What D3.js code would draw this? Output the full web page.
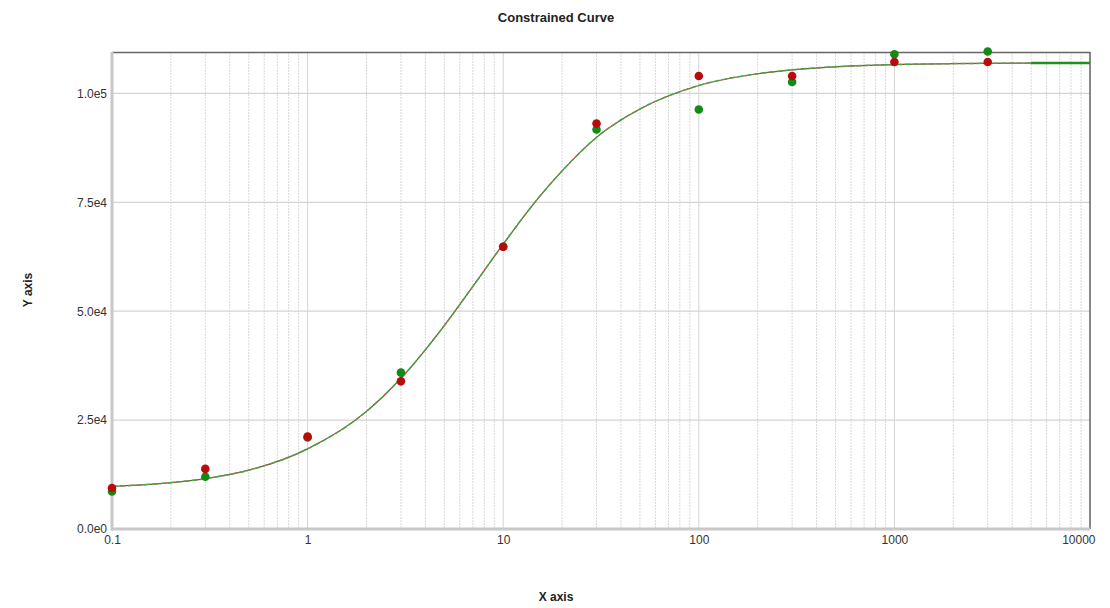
<!DOCTYPE html>
<html>
<head>
<meta charset="utf-8">
<script src="https://cdn.jsdelivr.net/npm/d3@7"></script>
<style>
  body { margin: 0; background: #fff; }
  svg { display: block; font-family: "Liberation Sans", Arial, sans-serif; }
</style>
</head>
<body>
<svg id="chart" width="1110" height="608"></svg>
<script>
// === data ===
const doses = [0.1, 0.3, 1, 3, 10, 30, 100, 300, 1000, 3000];
const redValues = [9400, 13800, 21200, 33900, 64800, 93100, 104000, 104000, 107200, 107200];
const greenValues = [8600, 12000, 21000, 35900, 64800, 91700, 96300, 102600, 109000, 109600];

// fitted curve
const curveX = [0.1, 0.2, 0.3, 0.5, 1, 2, 3, 5, 7, 10, 15, 20, 30, 50, 100, 200, 300, 1000, 3000, 5000, 10000];
const curveY = [9760, 10640, 11560, 13500, 18400, 27000, 34600, 46700, 55700, 65400, 75800, 82200, 89900, 96400, 101800, 104500, 105400, 106600, 106900, 106950, 107000];

const xTicks = [0.1, 1, 10, 100, 1000, 10000];
const xTickLabels = ["0.1", "1", "10", "100", "1000", "10000"];
const yTicks = [0, 25000, 50000, 75000, 100000];
const yTickLabels = ["0.0e0", "2.5e4", "5.0e4", "7.5e4", "1.0e5"];

const svg = d3.select("#chart");
const width = +svg.attr("width");
const height = +svg.attr("height");
const margin = { top: 52, right: 20, bottom: 79, left: 112 };
const innerWidth = width - margin.left - margin.right;
const innerHeight = height - margin.top - margin.bottom;

const x = d3.scaleLog().domain([0.1, 10000]).range([0, innerWidth]);
const y = d3.scaleLinear().domain([0, 109500]).range([innerHeight, 0]);

const g = svg.append("g").attr("transform", `translate(${margin.left},${margin.top})`);

// === grid ===
const minorTicks = [];
for (let e = -1; e < 4; e++) {
  for (let m = 2; m <= 9; m++) minorTicks.push(m * Math.pow(10, e));
}
g.selectAll(".minor").data(minorTicks).enter().append("line")
  .attr("x1", d => x(d)).attr("x2", d => x(d))
  .attr("y1", 0).attr("y2", innerHeight)
  .attr("stroke", "#d8d8d8").attr("stroke-width", 1)
  .attr("stroke-dasharray", "2,1");

g.selectAll(".major").data(xTicks).enter().append("line")
  .attr("x1", d => x(d)).attr("x2", d => x(d))
  .attr("y1", 0).attr("y2", innerHeight)
  .attr("stroke", "#d4d4d4").attr("stroke-width", 1);

g.selectAll(".hgrid").data(yTicks).enter().append("line")
  .attr("x1", 0).attr("x2", innerWidth)
  .attr("y1", d => y(d)).attr("y2", d => y(d))
  .attr("stroke", "#d4d4d4").attr("stroke-width", 1.2);

// === frame ===
g.append("line").attr("x1", 0).attr("x2", innerWidth).attr("y1", 0.5).attr("y2", 0.5)
  .attr("stroke", "#666").attr("stroke-width", 1.5);
g.append("line").attr("x1", innerWidth).attr("x2", innerWidth).attr("y1", 0).attr("y2", innerHeight)
  .attr("stroke", "#666").attr("stroke-width", 1.5);
g.append("line").attr("x1", 0).attr("x2", innerWidth).attr("y1", innerHeight).attr("y2", innerHeight)
  .attr("stroke", "#c8c8c8").attr("stroke-width", 3);
g.append("line").attr("x1", 0).attr("x2", 0).attr("y1", 0).attr("y2", innerHeight + 1.5)
  .attr("stroke", "#c8c8c8").attr("stroke-width", 3);

// === axes (labels only) ===
const xAxis = g.append("g")
  .attr("transform", `translate(0,${innerHeight})`)
  .call(d3.axisBottom(x).tickValues(xTicks).tickSize(0).tickPadding(6)
    .tickFormat((d, i) => xTickLabels[i]));
xAxis.select(".domain").remove();
xAxis.selectAll("text").attr("font-size", 12).attr("fill", "#333")
  .attr("text-anchor", (d, i) => i === xTicks.length - 1 ? "end" : "middle")
  .attr("dx", (d, i) => i === xTicks.length - 1 ? 5 : 0);

const yAxis = g.append("g")
  .call(d3.axisLeft(y).tickValues(yTicks).tickSize(0).tickPadding(5)
    .tickFormat((d, i) => yTickLabels[i]));
yAxis.select(".domain").remove();
yAxis.selectAll("text").attr("font-size", 12).attr("fill", "#333");

// === fitted curves ===
const line = d3.line()
  .x(d => x(d[0]))
  .y(d => y(d[1]))
  .curve(d3.curveMonotoneX);
const curveData = curveX.map((v, i) => [v, curveY[i]]);

g.append("path").datum(curveData)
  .attr("d", line).attr("fill", "none")
  .attr("stroke", "#a83a3a").attr("stroke-width", 1.2);
g.append("path").datum(curveData)
  .attr("d", line).attr("fill", "none")
  .attr("stroke", "#45a845").attr("stroke-width", 1.5)
  .attr("stroke-dasharray", "6,2");
// heavier green stretch at the far right end
g.append("path").datum(curveData.filter(d => d[0] >= 5000))
  .attr("d", line).attr("fill", "none")
  .attr("stroke", "#1f8f1f").attr("stroke-width", 2.5);

// === points ===
g.selectAll(".pt-green").data(doses).enter().append("circle")
  .attr("cx", d => x(d))
  .attr("cy", (d, i) => y(greenValues[i]))
  .attr("r", 4.3).attr("fill", "#138a13");

g.selectAll(".pt-red").data(doses).enter().append("circle")
  .attr("cx", d => x(d))
  .attr("cy", (d, i) => y(redValues[i]))
  .attr("r", 4.3).attr("fill", "#b80c0c");

// === titles ===
svg.append("text")
  .attr("x", 556).attr("y", 22)
  .attr("text-anchor", "middle")
  .attr("font-size", 13).attr("font-weight", "bold").attr("fill", "#222")
  .text("Constrained Curve");

svg.append("text")
  .attr("x", 556).attr("y", 601)
  .attr("text-anchor", "middle")
  .attr("font-size", 12).attr("font-weight", "bold").attr("fill", "#222")
  .text("X axis");

svg.append("text")
  .attr("transform", "translate(32,290) rotate(-90)")
  .attr("text-anchor", "middle")
  .attr("font-size", 12).attr("font-weight", "bold").attr("fill", "#222")
  .text("Y axis");
</script>
</body>
</html>
